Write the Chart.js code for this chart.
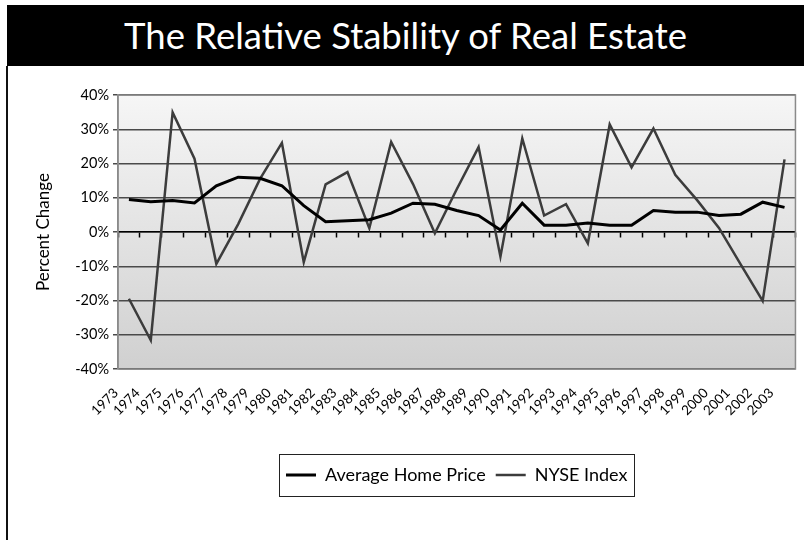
<!DOCTYPE html>
<html>
<head>
<meta charset="utf-8">
<script src="https://cdn.jsdelivr.net/npm/chart.js@4.4.1/dist/chart.umd.min.js"></script>
<style>
  html, body { margin: 0; padding: 0; background: #fff; }
  #wrap { position: relative; width: 804px; height: 540px; overflow: hidden; }
  #title {
    position: absolute; left: 7px; top: 5px; width: 797px; height: 61px;
    background: #000; color: #fff; text-align: center;
    font-family: Lato, sans-serif; font-size: 36.5px; line-height: 61px;
  }
  #edge { position: absolute; left: 6px; top: 66px; width: 2px; height: 474px; background: #111; }
  #chart { position: absolute; left: 0; top: 0; }
</style>
</head>
<body>
<div id="wrap">
  <canvas id="chart" width="804" height="540"></canvas>
  <div id="title">The Relative Stability of Real Estate</div>
  <div id="edge"></div>
</div>
<script>
// ── Data (percent change per year) ───────────────────
const years = ['1973','1974','1975','1976','1977','1978','1979','1980','1981','1982',
               '1983','1984','1985','1986','1987','1988','1989','1990','1991','1992',
               '1993','1994','1995','1996','1997','1998','1999','2000','2001','2002','2003'];

const homePrice = [9.5, 8.8, 9.2, 8.5, 13.5, 16.0, 15.7, 13.5, 7.7, 3.0,
                   3.3, 3.6, 5.5, 8.4, 8.1, 6.3, 4.8, 0.6, 8.4, 2.0,
                   2.0, 2.6, 2.0, 2.0, 6.3, 5.8, 5.8, 4.8, 5.2, 8.7, 7.2];

const nyseIndex = [-19.5, -31.6, 34.9, 21.4, -9.3, 2.3, 15.5, 26.0, -8.8, 13.9,
                   17.5, 1.1, 26.3, 14.0, -0.4, 12.5, 24.8, -7.2, 27.3, 4.8,
                   8.1, -3.3, 31.4, 18.9, 30.2, 16.7, 9.3, 1.2, -9.5, -20.1, 21.2];

const yTicks = [-40, -30, -20, -10, 0, 10, 20, 30, 40];

const FONT = 'Lato, "Open Sans", sans-serif';

// ── Plot background + frame + legend box ─────────────
const plotDecor = {
  id: 'plotDecor',
  beforeDraw(chart) {
    const { ctx, chartArea: a } = chart;
    const g = ctx.createLinearGradient(0, a.top, 0, a.bottom);
    g.addColorStop(0, '#f6f6f6');
    g.addColorStop(1, '#d0d0d0');
    ctx.save();
    ctx.fillStyle = g;
    ctx.fillRect(a.left, a.top, a.right - a.left, a.bottom - a.top);
    ctx.restore();
  },
  afterDraw(chart) {
    const { ctx, chartArea: a } = chart;
    ctx.save();
    ctx.strokeStyle = '#8a8a8a';
    ctx.lineWidth = 1.5;
    ctx.strokeRect(a.left, a.top, a.right - a.left, a.bottom - a.top);
    const boxes = chart.legend && chart.legend.legendHitBoxes;
    if (boxes && boxes.length) {
      const first = boxes[0], last = boxes[boxes.length - 1];
      const x1 = first.left - 7, x2 = last.left + last.width + 7;
      const y1 = first.top - 12, y2 = first.top + first.height + 12;
      ctx.strokeStyle = '#222';
      ctx.lineWidth = 1;
      ctx.strokeRect(Math.round(x1) + 0.5, Math.round(y1) + 0.5, Math.round(x2 - x1), Math.round(y2 - y1));
    }
    ctx.restore();
  }
};

new Chart(document.getElementById('chart'), {
  type: 'line',
  data: {
    labels: years,
    datasets: [
      { label: 'Average Home Price', data: homePrice, borderColor: '#000', backgroundColor: '#000',
        borderWidth: 3, pointRadius: 0, tension: 0, fill: false },
      { label: 'NYSE Index', data: nyseIndex, borderColor: '#3c3c3c', backgroundColor: '#3c3c3c',
        borderWidth: 2.5, pointRadius: 0, tension: 0, fill: false }
    ]
  },
  options: {
    responsive: false,
    animation: false,
    layout: { padding: { top: 95, left: 9, right: 1, bottom: 46 } },
    plugins: {
      title: { display: false },
      tooltip: { enabled: false },
      legend: {
        position: 'bottom',
        fullSize: false,
        labels: {
          color: '#000', font: { family: FONT, size: 18 },
          usePointStyle: true, pointStyle: 'line', pointStyleWidth: 30, padding: 10
        }
      }
    },
    scales: {
      x: {
        type: 'category', offset: true, position: 'bottom',
        grid: { display: false }, border: { display: false },
        ticks: { color: '#000', font: { family: FONT, size: 13.5 }, minRotation: 45, maxRotation: 45,
                 autoSkip: false, labelOffset: -13, padding: 8 },
        afterFit(scale) { scale.height = 87; }
      },
      xZero: {
        type: 'category', axis: 'x', offset: true, position: { y: 0 },
        grid: { display: true, offset: true, drawOnChartArea: false, drawTicks: true,
                tickLength: 5, tickColor: '#000', tickWidth: 1.5 },
        border: { display: true, color: '#000', width: 1.5 },
        ticks: { display: false }
      },
      y: {
        min: -40, max: 40,
        afterBuildTicks(scale) { scale.ticks = yTicks.map(v => ({ value: v })); },
        grid: { color: '#4a4a4a', lineWidth: 1.5, tickLength: 5, tickColor: '#4a4a4a' },
        border: { display: true, color: '#8a8a8a', width: 1.5 },
        ticks: { color: '#000', font: { family: FONT, size: 14.5 }, padding: 4,
                 callback: v => v + '%' },
        title: { display: true, text: 'Percent Change', color: '#000',
                 font: { family: FONT, size: 17 }, padding: { top: 24, bottom: 0 } },
        afterFit(scale) { scale.width = 109; }
      }
    }
  },
  plugins: [plotDecor]
});
</script>
</body>
</html>
